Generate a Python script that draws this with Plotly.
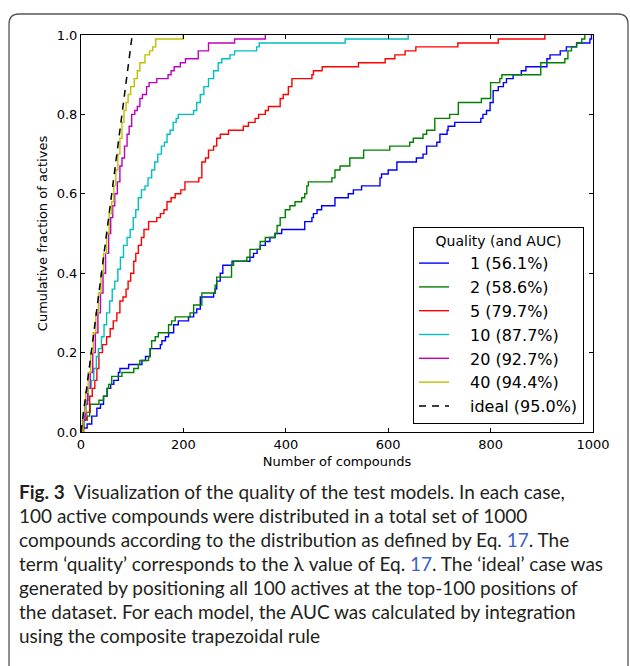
import plotly.graph_objects as go

# ---------------- data ----------------
qualities = ["1", "2", "5", "10", "20", "40"]
auc_values = [56.1, 58.6, 79.7, 87.7, 92.7, 94.4]
ideal_auc = 95.0

q1_x = [0, 5, 12, 21, 31, 38, 44, 51, 58, 64, 73, 76, 93, 119, 126, 135, 155, 158, 165, 171,
        181, 190, 210, 220, 226, 233, 259, 262, 265, 272, 277, 295, 330, 337, 344, 350, 360, 369,
        379, 392, 437, 451, 454, 461, 470, 496, 522, 532, 548, 584, 587, 600, 617, 655, 668, 675,
        695, 701, 715, 717, 730, 781, 785, 792, 799, 805, 815, 825, 831, 844, 860, 869, 910, 916,
        936, 948, 968, 994, 997]
q1_y = [0.0, 0.01, 0.02, 0.04, 0.06, 0.07, 0.09, 0.11, 0.12, 0.13, 0.15, 0.16, 0.17, 0.18, 0.19,
        0.21, 0.22, 0.23, 0.24, 0.25, 0.27, 0.28, 0.29, 0.30, 0.31, 0.34, 0.35, 0.36, 0.38, 0.40,
        0.42, 0.43, 0.44, 0.45, 0.46, 0.47, 0.48, 0.49, 0.50, 0.51, 0.53, 0.54, 0.55, 0.56, 0.57,
        0.59, 0.60, 0.61, 0.62, 0.64, 0.65, 0.66, 0.68, 0.69, 0.70, 0.72, 0.73, 0.75, 0.76, 0.77,
        0.78, 0.79, 0.80, 0.81, 0.83, 0.86, 0.87, 0.88, 0.89, 0.90, 0.91, 0.92, 0.94, 0.95, 0.96,
        0.97, 0.98, 0.99, 1.0]

q2_x = [0, 3, 6, 12, 17, 18, 35, 44, 51, 54, 60, 80, 103, 112, 115, 132, 135, 138, 145, 151,
        171, 177, 184, 213, 220, 236, 262, 265, 294, 298, 324, 330, 350, 360, 379, 383, 389, 399,
        408, 418, 431, 437, 441, 444, 490, 496, 506, 525, 552, 603, 642, 649, 668, 675, 691, 720,
        737, 782, 800, 818, 822, 898, 945, 951, 958, 968, 978, 984]
q2_y = [0.0, 0.01, 0.03, 0.04, 0.05, 0.07, 0.08, 0.09, 0.11, 0.12, 0.14, 0.15, 0.16, 0.17, 0.18,
        0.19, 0.21, 0.23, 0.24, 0.25, 0.27, 0.28, 0.29, 0.30, 0.32, 0.35, 0.37, 0.39, 0.42, 0.43,
        0.44, 0.46, 0.48, 0.49, 0.50, 0.52, 0.54, 0.56, 0.57, 0.58, 0.59, 0.60, 0.62, 0.63, 0.64,
        0.66, 0.67, 0.69, 0.71, 0.72, 0.73, 0.74, 0.75, 0.76, 0.79, 0.80, 0.83, 0.84, 0.88, 0.89,
        0.90, 0.93, 0.94, 0.96, 0.97, 0.98, 0.99, 1.0]

q5_x = [0, 5, 11, 17, 22, 27, 31, 35, 42, 50, 57, 63, 70, 76, 82, 88, 92, 97, 103, 107, 112,
        118, 123, 132, 148, 155, 162, 168, 176, 184, 195, 203, 230, 236, 243, 249, 259, 265, 272,
        288, 317, 327, 340, 347, 360, 366, 389, 395, 405, 412, 451, 454, 471, 542, 594, 613, 633,
        654, 736, 815, 906]
q5_y = [0.0, 0.03, 0.05, 0.09, 0.11, 0.13, 0.16, 0.20, 0.22, 0.24, 0.26, 0.28, 0.30, 0.33, 0.34,
        0.36, 0.38, 0.40, 0.43, 0.45, 0.47, 0.49, 0.51, 0.53, 0.54, 0.55, 0.56, 0.58, 0.59, 0.60,
        0.61, 0.63, 0.64, 0.68, 0.69, 0.71, 0.72, 0.74, 0.75, 0.76, 0.77, 0.78, 0.79, 0.80, 0.81,
        0.82, 0.84, 0.85, 0.87, 0.89, 0.90, 0.91, 0.92, 0.93, 0.94, 0.95, 0.96, 0.97, 0.98, 0.99,
        1.0]

q10_x = [0, 3, 6, 10, 14, 20, 25, 30, 34, 40, 45, 50, 56, 61, 66, 72, 77, 83, 90, 96, 102, 107,
         112, 118, 125, 131, 138, 144, 150, 157, 163, 168, 174, 180, 186, 190, 220, 226, 233, 240,
         249, 259, 268, 275, 291, 300, 343, 348, 516, 639]
q10_y = [0.0, 0.02, 0.04, 0.08, 0.11, 0.13, 0.16, 0.19, 0.21, 0.24, 0.27, 0.30, 0.33, 0.36, 0.38,
         0.41, 0.44, 0.47, 0.49, 0.51, 0.54, 0.56, 0.59, 0.61, 0.62, 0.64, 0.66, 0.68, 0.70, 0.72,
         0.73, 0.75, 0.76, 0.78, 0.79, 0.80, 0.81, 0.83, 0.85, 0.87, 0.89, 0.91, 0.93, 0.94, 0.95,
         0.96, 0.97, 0.98, 0.99, 1.0]

q20_x = [0, 3, 8, 13, 18, 23, 28, 33, 38, 43, 48, 54, 58, 62, 66, 71, 76, 80, 85, 90, 94, 99, 105,
         110, 115, 120, 128, 133, 148, 170, 176, 182, 194, 204, 229, 249, 300, 360]
q20_y = [0.0, 0.03, 0.07, 0.11, 0.15, 0.20, 0.25, 0.30, 0.35, 0.40, 0.45, 0.50, 0.54, 0.57, 0.60,
         0.63, 0.67, 0.69, 0.72, 0.75, 0.77, 0.80, 0.81, 0.82, 0.84, 0.85, 0.87, 0.88, 0.89, 0.90,
         0.91, 0.92, 0.93, 0.94, 0.96, 0.98, 0.99, 1.0]

q40_x = [0, 4, 9, 14, 19, 24, 29, 34, 39, 44, 50, 55, 60, 64, 68, 72, 76, 80, 84, 88, 92, 97, 104,
         110, 115, 125, 134, 140, 146, 199]
q40_y = [0.0, 0.05, 0.10, 0.15, 0.20, 0.25, 0.30, 0.35, 0.40, 0.45, 0.50, 0.55, 0.58, 0.62, 0.66,
         0.70, 0.74, 0.78, 0.81, 0.83, 0.85, 0.87, 0.89, 0.91, 0.93, 0.95, 0.96, 0.97, 0.99, 1.0]

ideal_x = [0, 100]
ideal_y = [0.0, 1.0]

x_ticks = [0, 200, 400, 600, 800, 1000]
y_ticks = [0.0, 0.2, 0.4, 0.6, 0.8, 1.0]

caption_lines = [
    "<b>Fig. 3</b>  Visualization of the quality of the test models. In each case,",
    "100 active compounds were distributed in a total set of 1000",
    "compounds according to the distribution as defined by Eq. <span style='color:#3a5fcd'>17</span>. The",
    "term \u2018quality\u2019 corresponds to the \u03bb value of Eq. <span style='color:#3a5fcd'>17</span>. The \u2018ideal\u2019 case was",
    "generated by positioning all 100 actives at the top-100 positions of",
    "the dataset. For each model, the AUC was calculated by integration",
    "using the composite trapezoidal rule",
]

# ---------------- styling / layout ----------------
W, H = 630, 666
ML, MR, MT, MB = 81, 37, 35, 234
PW, PH = W - ML - MR, H - MT - MB


def fx(px):
    return (px - ML) / PW


def fy(py):
    return (H - MB - py) / PH


colors = ["#0000ff", "#008000", "#ff0000", "#00bfbf", "#bf00bf", "#bfbf00"]
series_x = [q1_x, q2_x, q5_x, q10_x, q20_x, q40_x]
series_y = [q1_y, q2_y, q5_y, q10_y, q20_y, q40_y]

PAD = "\u2002\u2002"  # gap between legend line sample and label

fig = go.Figure()
for xs, ys, q, a, c in zip(series_x, series_y, qualities, auc_values, colors):
    fig.add_trace(go.Scatter(
        x=xs, y=ys, mode="lines", name=f"{PAD}{q} ({a:.1f}%)",
        line=dict(color=c, width=1.4, shape="hv"),
    ))
fig.add_trace(go.Scatter(
    x=ideal_x, y=ideal_y, mode="lines", name=f"{PAD}ideal ({ideal_auc:.1f}%)",
    line=dict(color="black", width=1.5, dash="7px,6px"),
))

axis_common = dict(
    showline=True, linecolor="black", linewidth=1, mirror="ticks",
    ticks="inside", ticklen=4, tickcolor="black", tickwidth=1,
    showgrid=False, zeroline=False,
    tickfont=dict(family="DejaVu Sans", size=13, color="black"),
)

fig.update_layout(
    width=W, height=H,
    margin=dict(l=ML, r=MR, t=MT, b=MB),
    paper_bgcolor="white", plot_bgcolor="white",
    font=dict(family="DejaVu Sans", color="black"),
    xaxis=dict(range=[0, 1000], tickvals=x_ticks, ticktext=[str(v) for v in x_ticks],
               title=dict(text="Number of compounds", font=dict(size=13), standoff=6),
               **axis_common),
    yaxis=dict(range=[0, 1.0], tickvals=y_ticks, ticktext=[f"{v:.1f}" for v in y_ticks],
               title=dict(text="Cumulative fraction of actives", font=dict(size=13), standoff=6),
               **axis_common),
    legend=dict(
        x=fx(584), y=fy(424), xanchor="right", yanchor="bottom",
        bgcolor="white", bordercolor="black", borderwidth=1,
        font=dict(family="DejaVu Sans", size=16, color="black"),
        title=dict(text="Quality (and AUC)", side="top center",
                   font=dict(family="DejaVu Sans", size=14)),
        itemwidth=30, tracegroupgap=0,
    ),
    showlegend=True,
)

# rounded frame around figure + caption
left, top, right, bottom, r = 9, 14, 628, 720, 10
path = (f"M {fx(left)},{fy(bottom)} L {fx(left)},{fy(top + r)} "
        f"Q {fx(left)},{fy(top)} {fx(left + r)},{fy(top)} "
        f"L {fx(right - r)},{fy(top)} Q {fx(right)},{fy(top)} {fx(right)},{fy(top + r)} "
        f"L {fx(right)},{fy(bottom)}")
fig.add_shape(type="path", path=path, xref="paper", yref="paper",
              line=dict(color="#555555", width=1.3))

# caption
cap_y = [491, 515, 539, 563, 587, 611, 635]
for txt, yy in zip(caption_lines, cap_y):
    fig.add_annotation(
        text=txt, xref="paper", yref="paper", x=fx(17), y=fy(yy),
        xanchor="left", yanchor="middle", showarrow=False,
        font=dict(family="Lato", size=19, color="#231f20"),
    )

fig.write_html("out.html", config={"displayModeBar": False},
               post_script="document.body.style.margin='0';")
